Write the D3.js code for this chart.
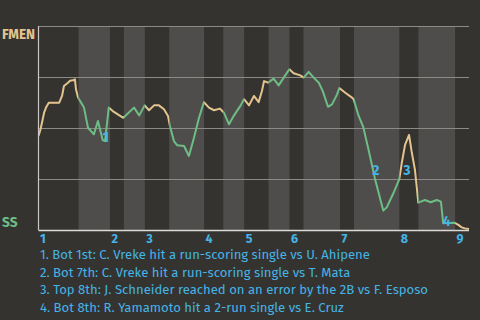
<!DOCTYPE html>
<html>
<head>
<meta charset="utf-8">
<script src="https://cdn.jsdelivr.net/npm/d3@7"></script>
<style>
  html, body { margin: 0; padding: 0; background: #353330; }
  svg { display: block; }
</style>
</head>
<body>
<svg id="chart" width="480" height="320"></svg>
<script>
// events per half inning (top 1st, bot 1st, top 2nd ... top 9th)
const halfInningEvents = [23, 18, 8, 12, 14, 20, 11, 12, 14, 12, 8, 21, 8, 26, 11, 21, 8];
const inningLabels = ['1', '2', '3', '4', '5', '6', '7', '8', '9'];

// FMEN win probability (%) at game event index
const eventIdx = [0, 0.9, 2, 3.2, 4.3, 5.9, 11.9, 13.5, 14.6, 16.9, 18.1, 20.4, 20.9, 21.5, 22.7,
  26.1, 28.4, 31.8, 34.1, 36, 36.8, 38.2, 40.3, 42.6, 46.4, 48.7, 54.8, 57.8, 60.9, 63.4,
  66.3, 69.1, 72, 74.3, 75.4, 77.7, 79.6, 83.5, 86.3, 89.2, 92.1, 94.9, 97.8, 100.7, 104.1,
  106.4, 109.3, 112.2, 116, 117.9, 120.8, 123.6, 126.3, 128.2, 129.4, 131.1, 131.7, 134.9, 137.8,
  140.7, 143.9, 146.4, 150.2, 152.2, 155, 157.9, 160.8, 163.1, 166.1, 168.4, 171.3, 172.6, 176,
  179.9, 180.8, 183.7, 186.3, 189.2, 193, 197.8, 199.8, 203.6, 207, 208.4, 210.3, 212.6, 214.1,
  216, 217, 217.9, 221.7, 225, 228.5, 230.9, 232.2, 238.6, 240.9, 242.8, 244.7, 247];
const fmenWinPct = [46.1, 48.5, 52.6, 57.5, 60, 62.4, 62.4, 65.7, 70.6, 72.2, 73.2, 73.5, 73.9, 69, 64.9,
  60, 50.1, 46.9, 53.4, 46.9, 44.1, 43.6, 60, 58.3, 56.2, 55, 60, 56.2, 61.1, 58.7,
  61.1, 61.1, 59.2, 55.9, 51, 43.6, 41.5, 41.2, 36.3, 45.2, 55, 62.7, 60, 58.7, 59.5,
  57.5, 51.8, 56.2, 61.1, 64.1, 61.1, 65.7, 62.7, 68.1, 73, 72.5, 72.2, 74.2, 70.9,
  74.7, 78.8, 76.8, 75.8, 74.7, 77.5, 74.7, 72.2, 68.1, 60.4, 61.6, 66.5, 69.6, 67.3,
  64.9, 64.1, 55.9, 50.6, 40, 25.3, 9.5, 11.1, 18, 24.9, 32.7, 41.7, 46.6, 38.4,
  29.4, 21.2, 13.4, 14.7, 13.6, 14.7, 13.9, 3.3, 3.6, 2.5, 1.3, 0.8, 0.5];

// key plays
const keyPlayIdx = [38.6, 193.6, 211.3, 234.2];
const keyPlayPct = [45.6, 29.4, 29.4, 4.4];
const keyPlayText = [
  '1. Bot 1st: C. Vreke hit a run-scoring single vs U. Ahipene',
  '2. Bot 7th: C. Vreke hit a run-scoring single vs T. Mata',
  '3. Top 8th: J. Schneider reached on an error by the 2B vs F. Esposo',
  '4. Bot 8th: R. Yamamoto hit a 2-run single vs E. Cruz'
];

const awayTeam = 'FMEN';
const homeTeam = 'SS';

const awayColor = '#e3c48e';
const homeColor = '#6dbd85';
const noteColor = '#45b4e6';
const font = '"Fira Sans", "Noto Sans", sans-serif';

const svg = d3.select('#chart');
const plotL = 38.5, plotR = 469, plotT = 26, plotB = 230;

const totalEvents = d3.sum(halfInningEvents);
const x = d3.scaleLinear().domain([0, totalEvents]).range([plotL, plotR]);
const y = d3.scaleLinear().domain([0, 100]).range([plotB, plotT]);

// half inning spans
let acc = 0;
const halves = halfInningEvents.map((n, i) => {
  const h = { start: acc, end: acc + n, isTop: i % 2 === 0, inning: Math.floor(i / 2) };
  acc += n;
  return h;
});

svg.append('rect').attr('width', 480).attr('height', 320).attr('fill', '#353330');

svg.append('g').selectAll('rect')
  .data(halves.filter(h => !h.isTop))
  .join('rect')
  .attr('x', d => x(d.start))
  .attr('y', plotT)
  .attr('width', d => x(d.end) - x(d.start))
  .attr('height', plotB - plotT)
  .attr('fill', '#4f4d4b');

// gridlines
svg.append('g').selectAll('line')
  .data([25, 50, 75, 100])
  .join('line')
  .attr('x1', plotL).attr('x2', plotR)
  .attr('y1', d => Math.round(y(d)) + 0.5).attr('y2', d => Math.round(y(d)) + 0.5)
  .attr('stroke', '#8c8a87')
  .attr('stroke-width', 1);

// clip paths by batting team
const defs = svg.append('defs');
['top', 'bot'].forEach(k => {
  defs.append('clipPath').attr('id', 'clip-' + k)
    .selectAll('rect')
    .data(halves.filter(h => h.isTop === (k === 'top')))
    .join('rect')
    .attr('x', d => x(d.start))
    .attr('y', 0)
    .attr('width', d => x(d.end) - x(d.start) + (k === 'top' && d.end === totalEvents ? 3 : 0))
    .attr('height', 320);
});

const pts = eventIdx.map((e, i) => [e, fmenWinPct[i]]);
const line = d3.line().x(d => x(d[0])).y(d => y(d[1]));

svg.append('path').datum(pts)
  .attr('d', line)
  .attr('fill', 'none')
  .attr('stroke', awayColor)
  .attr('stroke-width', 2)
  .attr('stroke-linejoin', 'round')
  .attr('clip-path', 'url(#clip-top)');

svg.append('path').datum(pts)
  .attr('d', line)
  .attr('fill', 'none')
  .attr('stroke', homeColor)
  .attr('stroke-width', 2)
  .attr('stroke-linejoin', 'round')
  .attr('clip-path', 'url(#clip-bot)');

// axes lines
svg.append('line')
  .attr('x1', plotL).attr('x2', plotL).attr('y1', plotT).attr('y2', plotB)
  .attr('stroke', '#c9c7c4').attr('stroke-width', 1.2);
svg.append('line')
  .attr('x1', plotL).attr('x2', plotR).attr('y1', plotB + 0.5).attr('y2', plotB + 0.5)
  .attr('stroke', '#dcdad7').attr('stroke-width', 1.5);

// inning labels
const inningStarts = halves.filter(h => h.isTop);
svg.append('g').selectAll('text')
  .data(inningStarts)
  .join('text')
  .attr('x', d => x(d.start) + 1.5)
  .attr('y', 243)
  .attr('fill', noteColor)
  .attr('font-family', font)
  .attr('font-weight', 'bold')
  .attr('font-size', 12.5)
  .text((d, i) => inningLabels[i]);

// team labels
svg.append('text')
  .attr('x', 2).attr('y', 38.5)
  .attr('fill', awayColor)
  .attr('font-family', font)
  .attr('font-weight', 'bold')
  .attr('font-size', 15)
  .attr('textLength', 33).attr('lengthAdjust', 'spacingAndGlyphs')
  .text(awayTeam);
svg.append('text')
  .attr('x', 2).attr('y', 226.5)
  .attr('fill', homeColor)
  .attr('font-family', font)
  .attr('font-weight', 'bold')
  .attr('font-size', 14)
  .attr('textLength', 15.5).attr('lengthAdjust', 'spacingAndGlyphs')
  .text(homeTeam);

// key play markers
svg.append('g').selectAll('text')
  .data(keyPlayIdx)
  .join('text')
  .attr('x', d => x(d))
  .attr('y', (d, i) => y(keyPlayPct[i]))
  .attr('text-anchor', 'middle')
  .attr('dy', '0.36em')
  .attr('fill', noteColor)
  .attr('font-family', font)
  .attr('font-weight', 'bold')
  .attr('font-size', 14)
  .text((d, i) => i + 1);

// key play notes
svg.append('g').selectAll('text')
  .data(keyPlayText)
  .join('text')
  .attr('x', 40)
  .attr('y', (d, i) => 259 + i * 17.5)
  .attr('fill', noteColor)
  .attr('font-family', font)
  .attr('font-size', 13.1)
  .text(d => d);
</script>
</body>
</html>
